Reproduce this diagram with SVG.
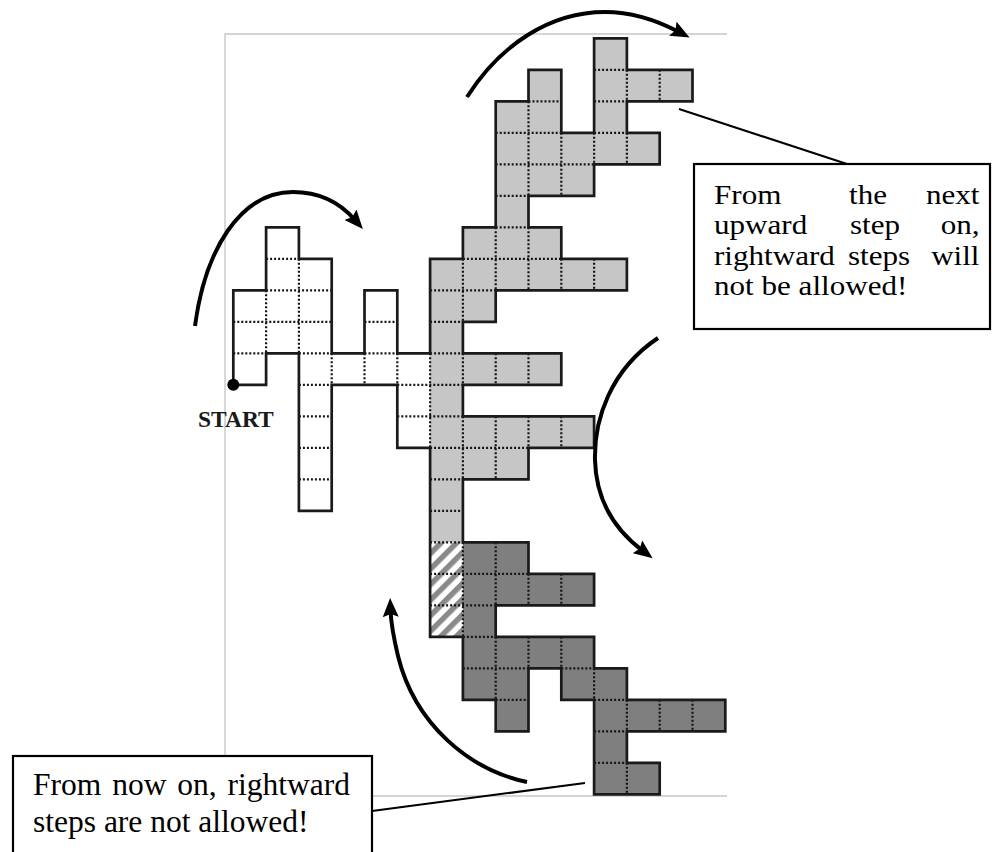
<svg xmlns="http://www.w3.org/2000/svg" width="992" height="852" viewBox="0 0 992 852">
<style>
.frame{fill:none;stroke:#c8c8c8;stroke-width:1.4}
.light{fill:#c6c6c6}
.dark{fill:#7f7f7f}
.dots{fill:none;stroke:#151515;stroke-width:2.2;stroke-dasharray:2 2}
.outline{fill:none;stroke:#1a1a1a;stroke-width:2.7;stroke-linejoin:miter}
.arrow{fill:none;stroke:#000;stroke-width:4;marker-end:url(#head)}
.leader{fill:none;stroke:#000;stroke-width:2}
.box{fill:#fff;stroke:#000;stroke-width:2.2}
.txt{font-family:"Liberation Serif","Times New Roman",serif;font-size:31.5px;fill:#000}
.txt1{font-family:"Liberation Serif","Times New Roman",serif;font-size:26.8px;fill:#000}
.start{font-family:"Liberation Serif","Times New Roman",serif;font-size:23.5px;font-weight:bold;fill:#1a1a1a}
</style>
<defs>
<marker id="head" markerUnits="userSpaceOnUse" markerWidth="20" markerHeight="16" refX="7" refY="8" orient="auto">
<path d="M0,0 L19,8 L0,16 L3,8 Z" fill="#000"/>
</marker>
<pattern id="hatch" width="11" height="11" patternUnits="userSpaceOnUse" patternTransform="rotate(45)">
<rect width="11" height="11" fill="#fff"/>
<rect width="5.5" height="11" fill="#8a8a8a"/>
</pattern>
</defs>
<rect width="992" height="852" fill="#fff"/>
<g id="frame">
<path class="frame" d="M225,796 V34 H727 M225,796 H727"/>
</g>
<g id="walk">
<path id="light-region" class="light" d="M430.1,258.8 L462.9,258.8 L462.9,227.3 L495.7,227.3 L495.7,101.3 L528.5,101.3 L528.5,69.8 L561.3,69.8 L561.3,132.8 L594.1,132.8 L594.1,38.3 L626.9,38.3 L626.9,69.8 L692.5,69.8 L692.5,101.3 L626.9,101.3 L626.9,132.8 L659.7,132.8 L659.7,164.3 L594.1,164.3 L594.1,195.8 L528.5,195.8 L528.5,227.3 L561.3,227.3 L561.3,258.8 L626.9,258.8 L626.9,290.3 L495.7,290.3 L495.7,321.8 L462.9,321.8 L462.9,353.3 L561.3,353.3 L561.3,384.8 L462.9,384.8 L462.9,416.3 L594.1,416.3 L594.1,447.8 L528.5,447.8 L528.5,479.3 L462.9,479.3 L462.9,542.3 L430.1,542.3 Z"/>
<path id="dark-region" class="dark" d="M462.9,542.3 L528.5,542.3 L528.5,573.8 L594.1,573.8 L594.1,605.3 L495.7,605.3 L495.7,636.8 L594.1,636.8 L594.1,668.3 L626.9,668.3 L626.9,699.8 L725.3,699.8 L725.3,731.3 L626.9,731.3 L626.9,762.8 L659.7,762.8 L659.7,794.3 L594.1,794.3 L594.1,699.8 L561.3,699.8 L561.3,668.3 L528.5,668.3 L528.5,731.3 L495.7,731.3 L495.7,699.8 L462.9,699.8 Z"/>
<rect id="hatched-cells" x="430.1" y="542.3" width="32.8" height="94.5" fill="url(#hatch)"/>
<path id="cell-dividers" class="dots" d="M594.1,69.8 H626.9 M528.5,101.3 H561.3 M594.1,101.3 H626.9 M495.7,132.8 H561.3 M594.1,132.8 H626.9 M495.7,164.3 H594.1 M495.7,195.8 H528.5 M495.7,227.3 H528.5 M266.1,258.8 H298.9 M462.9,258.8 H561.3 M266.1,290.3 H331.7 M430.1,290.3 H495.7 M233.3,321.8 H331.7 M364.5,321.8 H397.3 M430.1,321.8 H462.9 M233.3,353.3 H266.1 M298.9,353.3 H331.7 M364.5,353.3 H397.3 M430.1,353.3 H462.9 M298.9,384.8 H331.7 M397.3,384.8 H462.9 M298.9,416.3 H331.7 M397.3,416.3 H462.9 M298.9,447.8 H331.7 M430.1,447.8 H528.5 M298.9,479.3 H331.7 M430.1,479.3 H462.9 M430.1,510.8 H462.9 M430.1,542.3 H462.9 M430.1,573.8 H528.5 M430.1,605.3 H495.7 M462.9,636.8 H495.7 M462.9,668.3 H528.5 M561.3,668.3 H594.1 M495.7,699.8 H528.5 M594.1,699.8 H626.9 M594.1,731.3 H626.9 M594.1,762.8 H626.9
M266.1,290.3 V353.3 M298.9,258.8 V353.3 M331.7,353.3 V384.8 M364.5,353.3 V384.8 M397.3,353.3 V384.8 M430.1,353.3 V447.8
M462.9,258.8 V321.8 M462.9,353.3 V384.8 M462.9,416.3 V479.3 M462.9,542.3 V636.8
M495.7,227.3 V290.3 M495.7,353.3 V384.8 M495.7,416.3 V479.3 M495.7,542.3 V605.3 M495.7,636.8 V699.8
M528.5,101.3 V195.8 M528.5,227.3 V290.3 M528.5,353.3 V384.8 M528.5,416.3 V447.8 M528.5,573.8 V605.3 M528.5,636.8 V668.3
M561.3,132.8 V195.8 M561.3,258.8 V290.3 M561.3,416.3 V447.8 M561.3,573.8 V605.3 M561.3,636.8 V668.3
M594.1,132.8 V164.3 M594.1,258.8 V290.3 M594.1,668.3 V699.8
M626.9,69.8 V101.3 M626.9,132.8 V164.3 M626.9,699.8 V731.3 M626.9,762.8 V794.3
M659.7,69.8 V101.3 M659.7,699.8 V731.3 M692.5,699.8 V731.3"/>
<path id="walk-outline" class="outline" d="M233.3,384.8 L233.3,290.3 L266.1,290.3 L266.1,227.3 L298.9,227.3 L298.9,258.8 L331.7,258.8 L331.7,353.3 L364.5,353.3 L364.5,290.3 L397.3,290.3 L397.3,353.3 L430.1,353.3 L430.1,258.8 L462.9,258.8 L462.9,227.3 L495.7,227.3 L495.7,101.3 L528.5,101.3 L528.5,69.8 L561.3,69.8 L561.3,132.8 L594.1,132.8 L594.1,38.3 L626.9,38.3 L626.9,69.8 L692.5,69.8 L692.5,101.3 L626.9,101.3 L626.9,132.8 L659.7,132.8 L659.7,164.3 L594.1,164.3 L594.1,195.8 L528.5,195.8 L528.5,227.3 L561.3,227.3 L561.3,258.8 L626.9,258.8 L626.9,290.3 L495.7,290.3 L495.7,321.8 L462.9,321.8 L462.9,353.3 L561.3,353.3 L561.3,384.8 L462.9,384.8 L462.9,416.3 L594.1,416.3 L594.1,447.8 L528.5,447.8 L528.5,479.3 L462.9,479.3 L462.9,542.3 L528.5,542.3 L528.5,573.8 L594.1,573.8 L594.1,605.3 L495.7,605.3 L495.7,636.8 L594.1,636.8 L594.1,668.3 L626.9,668.3 L626.9,699.8 L725.3,699.8 L725.3,731.3 L626.9,731.3 L626.9,762.8 L659.7,762.8 L659.7,794.3 L594.1,794.3 L594.1,699.8 L561.3,699.8 L561.3,668.3 L528.5,668.3 L528.5,731.3 L495.7,731.3 L495.7,699.8 L462.9,699.8 L462.9,636.8 L430.1,636.8 L430.1,447.8 L397.3,447.8 L397.3,384.8 L331.7,384.8 L331.7,510.8 L298.9,510.8 L298.9,353.3 L266.1,353.3 L266.1,384.8 Z"/>
</g>
<g id="start">
<circle cx="233.3" cy="384.8" r="6" fill="#000"/>
<text class="start" x="198" y="427">START</text>
</g>
<g id="connectors">
<path class="arrow" d="M195,326 C205,250 240,192 293,192 C322,192 342,205 355,220"/>
<path class="arrow" d="M467,97 C500,45 550,12 605,12 C635,12 660,22 679,32"/>
<path class="arrow" d="M658,338 C610,370 594,420 595,460 C596,500 615,530 643,551"/>
<path class="arrow" d="M527,782 C470,770 415,725 398,656 C393,635 391,625 390.5,610"/>
<path class="leader" d="M679,109 L847,164"/>
<path class="leader" d="M372,811 L585,783"/>
</g>
<g id="note-upward">
<rect class="box" x="694" y="164" width="296" height="165"/>
<text class="txt1" transform="translate(714,203.5) scale(1.16,1)">From</text>
<text class="txt1" transform="translate(868,203.5) scale(1.16,1)" text-anchor="middle">the</text>
<text class="txt1" transform="translate(979.5,203.5) scale(1.16,1)" text-anchor="end">next</text>
<text class="txt1" transform="translate(714,234) scale(1.16,1)">upward</text>
<text class="txt1" transform="translate(875,234) scale(1.16,1)" text-anchor="middle">step</text>
<text class="txt1" transform="translate(979.5,234) scale(1.16,1)" text-anchor="end">on,</text>
<text class="txt1" transform="translate(714,264.5) scale(1.16,1)">rightward</text>
<text class="txt1" transform="translate(879,264.5) scale(1.16,1)" text-anchor="middle">steps</text>
<text class="txt1" transform="translate(979.5,264.5) scale(1.16,1)" text-anchor="end">will</text>
<text class="txt1" transform="translate(714,295) scale(1.16,1)">not be allowed!</text>
</g>
<g id="note-now">
<rect class="box" x="13" y="756" width="359" height="110"/>
<text class="txt" x="33" y="795">From</text>
<text class="txt" x="112.2" y="795">now</text>
<text class="txt" x="177.3" y="795">on,</text>
<text class="txt" x="350" y="795" text-anchor="end">rightward</text>
<text class="txt" x="33" y="832">steps are not allowed!</text>
</g>
</svg>
